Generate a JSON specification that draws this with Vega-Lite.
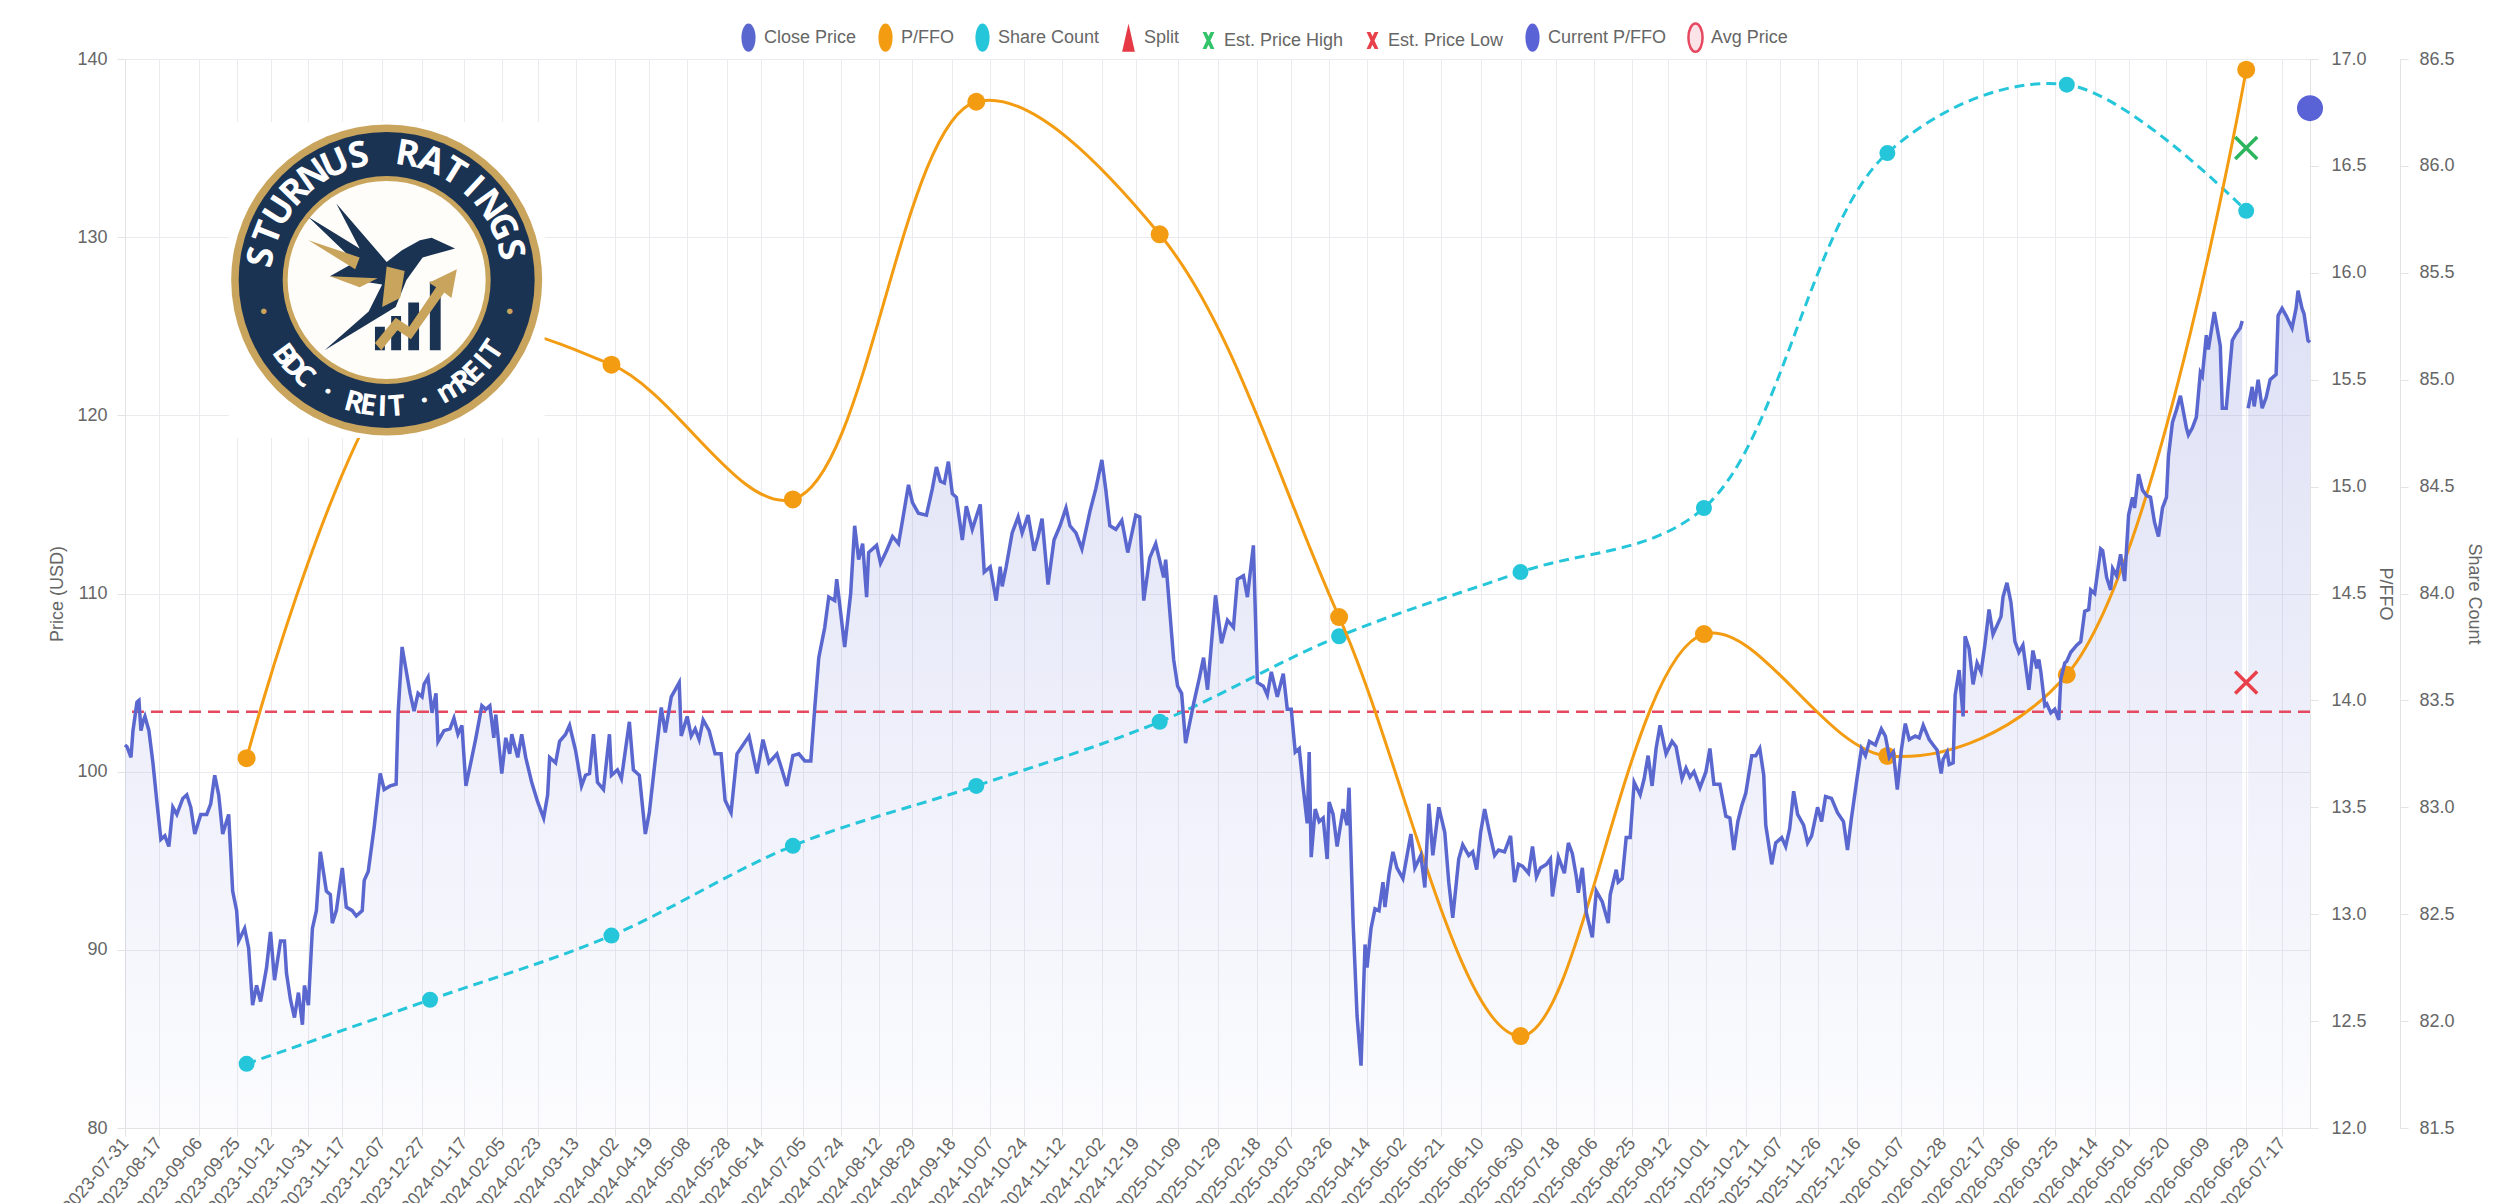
{
  "$schema": "https://vega.github.io/schema/vega-lite/v6.json",
  "width": 2185,
  "height": 1069,
  "autosize": {"type": "none"},
  "padding": {"left": 125, "top": 59, "right": 198, "bottom": 75},
  "background": "white",
  "config": {
    "font": "Liberation Sans",
    "view": {"stroke": null},
    "axis": {
      "labelColor": "#666666",
      "titleColor": "#666666",
      "labelFontSize": 18,
      "titleFontSize": 18,
      "titleFontWeight": "normal",
      "tickColor": "#e3e3e3",
      "domainColor": "#e3e3e3",
      "gridColor": "#ebebef",
      "tickSize": 8
    }
  },
  "datasets": {
    "prices": [
      {"date":"2023-07-31","close":101.5},{"date":"2023-08-01","close":101.4},{"date":"2023-08-03","close":100.8},{"date":"2023-08-04","close":102.3},{"date":"2023-08-06","close":103.9},{"date":"2023-08-07","close":104.0},{"date":"2023-08-08","close":102.3},{"date":"2023-08-09","close":102.8},{"date":"2023-08-10","close":103.1},{"date":"2023-08-12","close":102.3},{"date":"2023-08-14","close":100.5},{"date":"2023-08-16","close":98.3},{"date":"2023-08-18","close":96.2},{"date":"2023-08-20","close":96.4},{"date":"2023-08-22","close":95.8},{"date":"2023-08-24","close":98.0},{"date":"2023-08-26","close":97.6},{"date":"2023-08-29","close":98.5},{"date":"2023-08-31","close":98.7},
      {"date":"2023-09-02","close":98.0},{"date":"2023-09-04","close":96.5},{"date":"2023-09-07","close":97.6},{"date":"2023-09-10","close":97.6},{"date":"2023-09-12","close":98.2},{"date":"2023-09-14","close":99.8},{"date":"2023-09-16","close":98.7},{"date":"2023-09-18","close":96.5},{"date":"2023-09-21","close":97.6},{"date":"2023-09-23","close":93.3},{"date":"2023-09-25","close":92.2},{"date":"2023-09-26","close":90.5},{"date":"2023-09-29","close":91.2},
      {"date":"2023-10-01","close":90.1},{"date":"2023-10-03","close":86.9},{"date":"2023-10-05","close":88.0},{"date":"2023-10-07","close":87.1},{"date":"2023-10-10","close":89.0},{"date":"2023-10-12","close":91.0},{"date":"2023-10-14","close":88.3},{"date":"2023-10-17","close":90.5},{"date":"2023-10-19","close":90.5},{"date":"2023-10-20","close":88.7},{"date":"2023-10-22","close":87.2},{"date":"2023-10-24","close":86.2},{"date":"2023-10-26","close":87.6},{"date":"2023-10-28","close":85.8},{"date":"2023-10-29","close":88.0},{"date":"2023-10-31","close":86.9},
      {"date":"2023-11-02","close":91.2},{"date":"2023-11-04","close":92.2},{"date":"2023-11-06","close":95.5},{"date":"2023-11-09","close":93.3},{"date":"2023-11-11","close":93.1},{"date":"2023-11-12","close":91.5},{"date":"2023-11-14","close":92.2},{"date":"2023-11-17","close":94.6},{"date":"2023-11-19","close":92.4},{"date":"2023-11-22","close":92.2},{"date":"2023-11-24","close":91.9},{"date":"2023-11-27","close":92.2},{"date":"2023-11-28","close":93.9},{"date":"2023-11-30","close":94.4},
      {"date":"2023-12-03","close":96.9},{"date":"2023-12-06","close":99.9},{"date":"2023-12-08","close":99.0},{"date":"2023-12-11","close":99.2},{"date":"2023-12-14","close":99.3},{"date":"2023-12-15","close":103.3},{"date":"2023-12-17","close":107.0},{"date":"2023-12-21","close":104.4},{"date":"2023-12-23","close":103.4},{"date":"2023-12-25","close":104.4},{"date":"2023-12-27","close":104.2},{"date":"2023-12-28","close":104.9},{"date":"2023-12-30","close":105.3},
      {"date":"2024-01-01","close":103.3},{"date":"2024-01-03","close":104.4},{"date":"2024-01-04","close":101.7},{"date":"2024-01-07","close":102.3},{"date":"2024-01-10","close":102.4},{"date":"2024-01-12","close":103.0},{"date":"2024-01-14","close":102.1},{"date":"2024-01-16","close":102.6},{"date":"2024-01-18","close":99.2},{"date":"2024-01-21","close":100.8},{"date":"2024-01-23","close":101.9},{"date":"2024-01-26","close":103.7},{"date":"2024-01-28","close":103.5},{"date":"2024-01-30","close":103.7},
      {"date":"2024-02-01","close":101.9},{"date":"2024-02-02","close":103.2},{"date":"2024-02-05","close":99.9},{"date":"2024-02-07","close":101.9},{"date":"2024-02-09","close":101.0},{"date":"2024-02-10","close":102.1},{"date":"2024-02-13","close":100.8},{"date":"2024-02-15","close":102.1},{"date":"2024-02-17","close":100.8},{"date":"2024-02-20","close":99.4},{"date":"2024-02-23","close":98.3},{"date":"2024-02-26","close":97.4},{"date":"2024-02-28","close":98.7},{"date":"2024-02-29","close":100.8},
      {"date":"2024-03-03","close":100.5},{"date":"2024-03-05","close":101.7},{"date":"2024-03-08","close":102.1},{"date":"2024-03-10","close":102.6},{"date":"2024-03-13","close":101.2},{"date":"2024-03-16","close":99.2},{"date":"2024-03-18","close":99.8},{"date":"2024-03-20","close":99.9},{"date":"2024-03-22","close":102.1},{"date":"2024-03-24","close":99.4},{"date":"2024-03-27","close":99.0},{"date":"2024-03-30","close":102.1},{"date":"2024-03-31","close":99.8},
      {"date":"2024-04-03","close":100.1},{"date":"2024-04-05","close":99.6},{"date":"2024-04-09","close":102.8},{"date":"2024-04-11","close":100.1},{"date":"2024-04-14","close":99.8},{"date":"2024-04-17","close":96.5},{"date":"2024-04-19","close":97.7},{"date":"2024-04-22","close":100.7},{"date":"2024-04-25","close":103.6},{"date":"2024-04-27","close":102.2},{"date":"2024-04-30","close":104.2},
      {"date":"2024-05-04","close":105.0},{"date":"2024-05-05","close":102.0},{"date":"2024-05-08","close":103.1},{"date":"2024-05-10","close":102.0},{"date":"2024-05-12","close":102.4},{"date":"2024-05-14","close":101.8},{"date":"2024-05-16","close":102.9},{"date":"2024-05-19","close":102.3},{"date":"2024-05-22","close":101.0},{"date":"2024-05-25","close":101.0},{"date":"2024-05-27","close":98.4},{"date":"2024-05-30","close":97.7},
      {"date":"2024-06-02","close":101.0},{"date":"2024-06-08","close":102.0},{"date":"2024-06-12","close":99.9},{"date":"2024-06-15","close":101.8},{"date":"2024-06-18","close":100.5},{"date":"2024-06-22","close":101.0},{"date":"2024-06-24","close":100.3},{"date":"2024-06-27","close":99.2},{"date":"2024-06-30","close":100.9},
      {"date":"2024-07-03","close":101.0},{"date":"2024-07-06","close":100.6},{"date":"2024-07-09","close":100.6},{"date":"2024-07-11","close":103.6},{"date":"2024-07-13","close":106.4},{"date":"2024-07-16","close":108.1},{"date":"2024-07-18","close":109.8},{"date":"2024-07-21","close":109.6},{"date":"2024-07-22","close":110.8},{"date":"2024-07-26","close":107.0},{"date":"2024-07-29","close":110.0},{"date":"2024-07-31","close":113.8},
      {"date":"2024-08-02","close":111.9},{"date":"2024-08-04","close":112.8},{"date":"2024-08-06","close":109.8},{"date":"2024-08-07","close":112.3},{"date":"2024-08-11","close":112.7},{"date":"2024-08-13","close":111.7},{"date":"2024-08-16","close":112.4},{"date":"2024-08-19","close":113.2},{"date":"2024-08-22","close":112.8},{"date":"2024-08-24","close":114.1},{"date":"2024-08-27","close":116.1},{"date":"2024-08-29","close":115.1},
      {"date":"2024-09-01","close":114.5},{"date":"2024-09-05","close":114.4},{"date":"2024-09-08","close":115.9},{"date":"2024-09-10","close":117.1},{"date":"2024-09-12","close":116.3},{"date":"2024-09-14","close":116.2},{"date":"2024-09-16","close":117.4},{"date":"2024-09-18","close":115.6},{"date":"2024-09-20","close":115.4},{"date":"2024-09-23","close":113.0},{"date":"2024-09-25","close":114.9},{"date":"2024-09-28","close":113.6},
      {"date":"2024-10-02","close":115.0},{"date":"2024-10-04","close":111.2},{"date":"2024-10-07","close":111.5},{"date":"2024-10-10","close":109.6},{"date":"2024-10-12","close":111.5},{"date":"2024-10-13","close":110.4},{"date":"2024-10-15","close":111.5},{"date":"2024-10-18","close":113.4},{"date":"2024-10-21","close":114.3},{"date":"2024-10-23","close":113.4},{"date":"2024-10-26","close":114.4},{"date":"2024-10-29","close":112.4},{"date":"2024-10-31","close":113.2},
      {"date":"2024-11-02","close":114.2},{"date":"2024-11-05","close":110.5},{"date":"2024-11-08","close":113.0},{"date":"2024-11-11","close":113.8},{"date":"2024-11-14","close":114.8},{"date":"2024-11-16","close":113.8},{"date":"2024-11-19","close":113.4},{"date":"2024-11-22","close":112.5},{"date":"2024-11-26","close":114.6},{"date":"2024-11-29","close":115.9},
      {"date":"2024-12-02","close":117.5},{"date":"2024-12-04","close":115.8},{"date":"2024-12-06","close":113.8},{"date":"2024-12-09","close":113.6},{"date":"2024-12-12","close":114.1},{"date":"2024-12-15","close":112.3},{"date":"2024-12-19","close":114.4},{"date":"2024-12-21","close":114.3},{"date":"2024-12-23","close":109.6},{"date":"2024-12-26","close":112.0},{"date":"2024-12-29","close":112.8},
      {"date":"2025-01-02","close":110.9},{"date":"2025-01-03","close":111.9},{"date":"2025-01-05","close":109.1},{"date":"2025-01-07","close":106.3},{"date":"2025-01-09","close":104.8},{"date":"2025-01-11","close":104.4},{"date":"2025-01-13","close":101.6},{"date":"2025-01-17","close":103.8},{"date":"2025-01-20","close":105.3},{"date":"2025-01-22","close":106.4},{"date":"2025-01-24","close":104.6},{"date":"2025-01-28","close":109.9},{"date":"2025-01-31","close":107.2},
      {"date":"2025-02-03","close":108.5},{"date":"2025-02-06","close":108.1},{"date":"2025-02-08","close":110.8},{"date":"2025-02-11","close":111.0},{"date":"2025-02-13","close":109.8},{"date":"2025-02-16","close":112.7},{"date":"2025-02-18","close":105.0},{"date":"2025-02-21","close":104.8},{"date":"2025-02-23","close":104.3},{"date":"2025-02-25","close":105.6},{"date":"2025-02-28","close":104.2},
      {"date":"2025-03-03","close":105.5},{"date":"2025-03-05","close":103.5},{"date":"2025-03-07","close":103.5},{"date":"2025-03-09","close":101.1},{"date":"2025-03-11","close":101.3},{"date":"2025-03-13","close":99.1},{"date":"2025-03-15","close":97.1},{"date":"2025-03-16","close":101.1},{"date":"2025-03-17","close":95.2},{"date":"2025-03-19","close":97.9},{"date":"2025-03-21","close":97.2},{"date":"2025-03-23","close":97.4},{"date":"2025-03-25","close":95.1},{"date":"2025-03-26","close":98.3},{"date":"2025-03-28","close":97.6},{"date":"2025-03-30","close":95.8},
      {"date":"2025-04-02","close":97.9},{"date":"2025-04-04","close":97.0},{"date":"2025-04-05","close":99.1},{"date":"2025-04-07","close":91.6},{"date":"2025-04-09","close":86.3},{"date":"2025-04-11","close":83.5},{"date":"2025-04-13","close":90.3},{"date":"2025-04-14","close":89.0},{"date":"2025-04-16","close":91.2},{"date":"2025-04-18","close":92.3},{"date":"2025-04-20","close":92.2},{"date":"2025-04-22","close":93.8},{"date":"2025-04-23","close":92.4},{"date":"2025-04-25","close":94.2},{"date":"2025-04-27","close":95.5},{"date":"2025-04-29","close":94.6},
      {"date":"2025-05-02","close":94.0},{"date":"2025-05-06","close":96.5},{"date":"2025-05-08","close":94.6},{"date":"2025-05-11","close":95.3},{"date":"2025-05-13","close":93.5},{"date":"2025-05-15","close":98.2},{"date":"2025-05-17","close":95.3},{"date":"2025-05-20","close":98.0},{"date":"2025-05-23","close":96.6},{"date":"2025-05-25","close":93.8},{"date":"2025-05-27","close":91.8},{"date":"2025-05-30","close":95.1},
      {"date":"2025-06-01","close":95.9},{"date":"2025-06-04","close":95.3},{"date":"2025-06-06","close":95.5},{"date":"2025-06-08","close":94.5},{"date":"2025-06-10","close":96.6},{"date":"2025-06-12","close":97.9},{"date":"2025-06-14","close":96.8},{"date":"2025-06-17","close":95.3},{"date":"2025-06-19","close":95.6},{"date":"2025-06-22","close":95.5},{"date":"2025-06-25","close":96.4},{"date":"2025-06-27","close":93.8},{"date":"2025-06-29","close":94.8},
      {"date":"2025-07-01","close":94.7},{"date":"2025-07-04","close":94.3},{"date":"2025-07-06","close":95.8},{"date":"2025-07-08","close":94.1},{"date":"2025-07-10","close":94.6},{"date":"2025-07-13","close":94.8},{"date":"2025-07-15","close":95.1},{"date":"2025-07-16","close":93.0},{"date":"2025-07-19","close":95.2},{"date":"2025-07-22","close":94.3},{"date":"2025-07-24","close":96.0},{"date":"2025-07-26","close":95.4},{"date":"2025-07-28","close":94.1},{"date":"2025-07-29","close":93.2},{"date":"2025-07-31","close":94.6},
      {"date":"2025-08-02","close":92.1},{"date":"2025-08-05","close":90.7},{"date":"2025-08-07","close":93.3},{"date":"2025-08-10","close":92.7},{"date":"2025-08-13","close":91.5},{"date":"2025-08-14","close":93.1},{"date":"2025-08-17","close":94.5},{"date":"2025-08-18","close":93.8},{"date":"2025-08-20","close":94.0},{"date":"2025-08-22","close":96.3},{"date":"2025-08-24","close":96.3},{"date":"2025-08-26","close":99.4},{"date":"2025-08-29","close":98.7},{"date":"2025-08-31","close":99.6},
      {"date":"2025-09-02","close":100.9},{"date":"2025-09-04","close":99.2},{"date":"2025-09-06","close":101.3},{"date":"2025-09-08","close":102.6},{"date":"2025-09-11","close":101.0},{"date":"2025-09-14","close":101.7},{"date":"2025-09-16","close":101.4},{"date":"2025-09-19","close":99.6},{"date":"2025-09-21","close":100.2},{"date":"2025-09-23","close":99.7},{"date":"2025-09-25","close":100.0},{"date":"2025-09-28","close":99.1},
      {"date":"2025-10-01","close":100.0},{"date":"2025-10-03","close":101.3},{"date":"2025-10-05","close":99.3},{"date":"2025-10-08","close":99.3},{"date":"2025-10-11","close":97.5},{"date":"2025-10-13","close":97.4},{"date":"2025-10-15","close":95.6},{"date":"2025-10-17","close":97.2},{"date":"2025-10-19","close":98.1},{"date":"2025-10-21","close":98.8},{"date":"2025-10-24","close":100.9},{"date":"2025-10-26","close":100.9},{"date":"2025-10-28","close":101.3},{"date":"2025-10-30","close":99.8},{"date":"2025-10-31","close":97.0},
      {"date":"2025-11-03","close":94.8},{"date":"2025-11-05","close":96.0},{"date":"2025-11-08","close":96.3},{"date":"2025-11-10","close":95.8},{"date":"2025-11-12","close":96.8},{"date":"2025-11-14","close":98.9},{"date":"2025-11-16","close":97.6},{"date":"2025-11-19","close":97.0},{"date":"2025-11-21","close":96.0},{"date":"2025-11-23","close":96.4},{"date":"2025-11-26","close":98.0},{"date":"2025-11-28","close":97.2},{"date":"2025-11-30","close":98.6},
      {"date":"2025-12-03","close":98.5},{"date":"2025-12-06","close":97.7},{"date":"2025-12-09","close":97.2},{"date":"2025-12-11","close":95.6},{"date":"2025-12-13","close":97.4},{"date":"2025-12-16","close":99.8},{"date":"2025-12-18","close":101.3},{"date":"2025-12-20","close":100.9},{"date":"2025-12-22","close":101.7},{"date":"2025-12-25","close":101.5},{"date":"2025-12-28","close":102.4},{"date":"2025-12-30","close":102.0},
      {"date":"2026-01-01","close":100.8},{"date":"2026-01-03","close":101.1},{"date":"2026-01-05","close":99.0},{"date":"2026-01-07","close":101.2},{"date":"2026-01-09","close":102.7},{"date":"2026-01-11","close":101.8},{"date":"2026-01-14","close":102.0},{"date":"2026-01-16","close":101.9},{"date":"2026-01-18","close":102.6},{"date":"2026-01-21","close":101.8},{"date":"2026-01-23","close":101.5},{"date":"2026-01-25","close":101.2},{"date":"2026-01-27","close":99.9},{"date":"2026-01-28","close":100.7},{"date":"2026-01-30","close":101.1},{"date":"2026-01-31","close":100.4},
      {"date":"2026-02-02","close":100.5},{"date":"2026-02-03","close":104.3},{"date":"2026-02-05","close":105.7},{"date":"2026-02-07","close":103.1},{"date":"2026-02-08","close":107.6},{"date":"2026-02-10","close":106.9},{"date":"2026-02-12","close":104.9},{"date":"2026-02-14","close":106.1},{"date":"2026-02-16","close":105.6},{"date":"2026-02-18","close":107.2},{"date":"2026-02-20","close":109.1},{"date":"2026-02-22","close":107.7},{"date":"2026-02-26","close":108.7},{"date":"2026-02-27","close":109.8},
      {"date":"2026-03-01","close":110.6},{"date":"2026-03-03","close":109.5},{"date":"2026-03-05","close":107.3},{"date":"2026-03-07","close":106.7},{"date":"2026-03-09","close":107.1},{"date":"2026-03-12","close":104.6},{"date":"2026-03-14","close":106.8},{"date":"2026-03-16","close":105.8},{"date":"2026-03-17","close":106.3},{"date":"2026-03-18","close":105.6},{"date":"2026-03-20","close":103.7},{"date":"2026-03-21","close":103.8},{"date":"2026-03-23","close":103.3},{"date":"2026-03-25","close":103.5},{"date":"2026-03-27","close":102.9},{"date":"2026-03-28","close":105.2},{"date":"2026-03-30","close":106.1},{"date":"2026-03-31","close":106.2},
      {"date":"2026-04-02","close":106.7},{"date":"2026-04-05","close":107.1},{"date":"2026-04-07","close":107.3},{"date":"2026-04-09","close":109.0},{"date":"2026-04-11","close":109.1},{"date":"2026-04-12","close":110.2},{"date":"2026-04-14","close":110.0},{"date":"2026-04-17","close":112.5},{"date":"2026-04-18","close":112.4},{"date":"2026-04-20","close":110.9},{"date":"2026-04-22","close":110.2},{"date":"2026-04-23","close":111.4},{"date":"2026-04-25","close":111.0},{"date":"2026-04-27","close":112.2},{"date":"2026-04-29","close":110.7},
      {"date":"2026-05-01","close":114.4},{"date":"2026-05-03","close":115.4},{"date":"2026-05-04","close":114.8},{"date":"2026-05-06","close":116.7},{"date":"2026-05-08","close":115.8},{"date":"2026-05-10","close":115.5},{"date":"2026-05-12","close":115.4},{"date":"2026-05-14","close":114.0},{"date":"2026-05-16","close":113.2},{"date":"2026-05-18","close":114.8},{"date":"2026-05-20","close":115.4},{"date":"2026-05-21","close":117.7},{"date":"2026-05-23","close":119.6},{"date":"2026-05-25","close":120.3},{"date":"2026-05-27","close":121.1},{"date":"2026-05-28","close":120.5},{"date":"2026-05-30","close":119.3},{"date":"2026-05-31","close":118.9},
      {"date":"2026-06-02","close":119.3},{"date":"2026-06-04","close":119.9},{"date":"2026-06-06","close":122.4},{"date":"2026-06-07","close":122.2},{"date":"2026-06-09","close":124.5},{"date":"2026-06-10","close":123.7},{"date":"2026-06-13","close":125.8},{"date":"2026-06-16","close":123.9},{"date":"2026-06-17","close":120.4},{"date":"2026-06-19","close":120.4},{"date":"2026-06-22","close":124.2},{"date":"2026-06-24","close":124.6},{"date":"2026-06-26","close":124.9},{"date":"2026-06-27","close":125.3},{"date":"2026-06-29","close":null},{"date":"2026-06-30","close":120.4},
      {"date":"2026-07-02","close":121.6},{"date":"2026-07-03","close":120.5},{"date":"2026-07-05","close":122.0},{"date":"2026-07-07","close":120.4},{"date":"2026-07-09","close":121.0},{"date":"2026-07-11","close":122.0},{"date":"2026-07-14","close":122.3},{"date":"2026-07-15","close":125.6},{"date":"2026-07-17","close":126.0},{"date":"2026-07-19","close":125.6},{"date":"2026-07-22","close":124.9},{"date":"2026-07-24","close":126.0},{"date":"2026-07-25","close":127.0},{"date":"2026-07-27","close":126.0},{"date":"2026-07-28","close":125.7},{"date":"2026-07-30","close":124.2},{"date":"2026-07-31","close":124.1}
    ],
    "quarters": [
      {"date":"2023-09-30","pffo":13.73,"shares":81.80},
      {"date":"2023-12-31","pffo":15.70,"shares":82.10},
      {"date":"2024-03-31","pffo":15.57,"shares":82.40},
      {"date":"2024-06-30","pffo":14.94,"shares":82.82},
      {"date":"2024-09-30","pffo":16.80,"shares":83.10},
      {"date":"2024-12-31","pffo":16.18,"shares":83.40},
      {"date":"2025-03-31","pffo":14.39,"shares":83.80},
      {"date":"2025-06-30","pffo":12.43,"shares":84.10},
      {"date":"2025-09-30","pffo":14.31,"shares":84.40},
      {"date":"2025-12-31","pffo":13.74,"shares":86.06},
      {"date":"2026-03-31","pffo":14.12,"shares":86.38},
      {"date":"2026-06-29","pffo":16.95,"shares":85.79}
    ]
  },
  "resolve": {"scale": {"y": "independent", "theta": "independent", "angle": "independent"}},
  "layer": [
    {
      "data": {"name": "prices"},
      "layer": [
        {
          "mark": {
            "type": "area",
            "invalid": "break-paths-filter-domains",
            "color": {
              "gradient": "linear", "x1": 0, "y1": 0, "x2": 0, "y2": 1,
              "stops": [
                {"offset": 0, "color": "rgba(90,103,207,0.2)"},
                {"offset": 1, "color": "rgba(90,103,207,0.02)"}
              ]
            }
          },
          "encoding": {
            "x": {
              "field": "date", "type": "temporal",
              "scale": {"type": "utc", "domain": [{"year": 2023, "month": 7, "date": 31, "utc": true}, {"year": 2026, "month": 7, "date": 31, "utc": true}]},
              "axis": {
                "title": null, "format": "%Y-%m-%d", "labelAngle": -50, "labelAlign": "right", "labelBaseline": "middle",
                "labelOverlap": false, "labelFlush": false, "labelPadding": 4, "grid": true, "domain": true, "tickCount": 200,
                "values": [
                  {"year":2023,"month":7,"date":31,"utc":true},{"year":2023,"month":8,"date":17,"utc":true},{"year":2023,"month":9,"date":6,"utc":true},{"year":2023,"month":9,"date":25,"utc":true},{"year":2023,"month":10,"date":12,"utc":true},{"year":2023,"month":10,"date":31,"utc":true},{"year":2023,"month":11,"date":17,"utc":true},{"year":2023,"month":12,"date":7,"utc":true},{"year":2023,"month":12,"date":27,"utc":true},
                  {"year":2024,"month":1,"date":17,"utc":true},{"year":2024,"month":2,"date":5,"utc":true},{"year":2024,"month":2,"date":23,"utc":true},{"year":2024,"month":3,"date":13,"utc":true},{"year":2024,"month":4,"date":2,"utc":true},{"year":2024,"month":4,"date":19,"utc":true},{"year":2024,"month":5,"date":8,"utc":true},{"year":2024,"month":5,"date":28,"utc":true},{"year":2024,"month":6,"date":14,"utc":true},{"year":2024,"month":7,"date":5,"utc":true},{"year":2024,"month":7,"date":24,"utc":true},{"year":2024,"month":8,"date":12,"utc":true},{"year":2024,"month":8,"date":29,"utc":true},{"year":2024,"month":9,"date":18,"utc":true},{"year":2024,"month":10,"date":7,"utc":true},{"year":2024,"month":10,"date":24,"utc":true},{"year":2024,"month":11,"date":12,"utc":true},{"year":2024,"month":12,"date":2,"utc":true},{"year":2024,"month":12,"date":19,"utc":true},
                  {"year":2025,"month":1,"date":9,"utc":true},{"year":2025,"month":1,"date":29,"utc":true},{"year":2025,"month":2,"date":18,"utc":true},{"year":2025,"month":3,"date":7,"utc":true},{"year":2025,"month":3,"date":26,"utc":true},{"year":2025,"month":4,"date":14,"utc":true},{"year":2025,"month":5,"date":2,"utc":true},{"year":2025,"month":5,"date":21,"utc":true},{"year":2025,"month":6,"date":10,"utc":true},{"year":2025,"month":6,"date":30,"utc":true},{"year":2025,"month":7,"date":18,"utc":true},{"year":2025,"month":8,"date":6,"utc":true},{"year":2025,"month":8,"date":25,"utc":true},{"year":2025,"month":9,"date":12,"utc":true},{"year":2025,"month":10,"date":1,"utc":true},{"year":2025,"month":10,"date":21,"utc":true},{"year":2025,"month":11,"date":7,"utc":true},{"year":2025,"month":11,"date":26,"utc":true},{"year":2025,"month":12,"date":16,"utc":true},
                  {"year":2026,"month":1,"date":7,"utc":true},{"year":2026,"month":1,"date":28,"utc":true},{"year":2026,"month":2,"date":17,"utc":true},{"year":2026,"month":3,"date":6,"utc":true},{"year":2026,"month":3,"date":25,"utc":true},{"year":2026,"month":4,"date":14,"utc":true},{"year":2026,"month":5,"date":1,"utc":true},{"year":2026,"month":5,"date":20,"utc":true},{"year":2026,"month":6,"date":9,"utc":true},{"year":2026,"month":6,"date":29,"utc":true},{"year":2026,"month":7,"date":17,"utc":true}
                ]
              }
            },
            "y": {
              "field": "close", "type": "quantitative",
              "scale": {"domain": [80, 140], "nice": false, "zero": false},
              "axis": {"title": "Price (USD)", "values": [80, 90, 100, 110, 120, 130, 140], "grid": true, "labelPadding": 10, "titlePadding": 10}
            },
            "y2": {"datum": 80}
          }
        },
        {
          "data": {"values": [{"avg": 103.36}]},
          "mark": {"type": "rule", "color": "#e5485f", "strokeWidth": 2.5, "strokeDash": [12, 7]},
          "encoding": {"y": {"field": "avg", "type": "quantitative"}}
        }
      ]
    },
    {
      "data": {"name": "quarters"},
      "encoding": {
        "x": {"field": "date", "type": "temporal", "scale": {"type": "utc"}},
        "y": {
          "field": "shares", "type": "quantitative",
          "scale": {"domain": [81.5, 86.5], "nice": false, "zero": false},
          "axis": {"orient": "right", "offset": 90, "title": "Share Count", "values": [81.5, 82, 82.5, 83, 83.5, 84, 84.5, 85, 85.5, 86, 86.5], "format": ".1f", "grid": false, "labelPadding": 11, "titlePadding": 10}
        }
      },
      "layer": [
        {"mark": {"type": "line", "interpolate": "catmull-rom", "color": "#26c6da", "strokeWidth": 3, "strokeDash": [10, 6]}, "encoding": {}},
        {"mark": {"type": "point", "filled": true, "opacity": 1, "size": 256, "color": "#26c6da"}, "encoding": {}}
      ]
    },
    {
      "encoding": {
        "x": {"field": "date", "type": "temporal", "scale": {"type": "utc"}},
        "y": {
          "field": "pffo", "type": "quantitative",
          "scale": {"domain": [12, 17], "nice": false, "zero": false},
          "axis": {"orient": "right", "title": "P/FFO", "values": [12, 12.5, 13, 13.5, 14, 14.5, 15, 15.5, 16, 16.5, 17], "format": ".1f", "grid": false, "labelPadding": 13, "titlePadding": 9}
        }
      },
      "layer": [
        {"data": {"name": "quarters"}, "mark": {"type": "line", "interpolate": "catmull-rom", "color": "#f39c12", "strokeWidth": 3}, "encoding": {}},
        {"data": {"name": "quarters"}, "mark": {"type": "point", "filled": true, "opacity": 1, "size": 324, "color": "#f39c12"}, "encoding": {}},
        {"data": {"values": [{"date": "2026-07-31", "pffo": 16.77}]}, "mark": {"type": "point", "filled": true, "opacity": 1, "size": 676, "color": "#5a63d6"}, "encoding": {}}
      ]
    },
    {
      "encoding": {
        "x": {"field": "date", "type": "temporal", "scale": {"type": "utc"}}
      },
      "layer": [
        {
          "data": {"name": "prices"},
          "mark": {"type": "line", "color": "#5a67cf", "strokeWidth": 3.5, "invalid": "break-paths-filter-domains"},
          "encoding": {"y": {"field": "close", "type": "quantitative", "scale": {"domain": [80, 140], "nice": false, "zero": false}, "axis": null}}
        },
        {
          "data": {"values": [{"date": "2026-06-29", "high": 135, "low": 105}]},
          "mark": {"type": "point", "shape": "M-1,-1L1,1M-1,1L1,-1", "filled": false, "opacity": 1, "size": 484, "strokeWidth": 3.5, "color": "#2db55d"},
          "encoding": {"y": {"field": "high", "type": "quantitative", "scale": {"domain": [80, 140], "nice": false, "zero": false}, "axis": null}}
        },
        {
          "data": {"values": [{"date": "2026-06-29", "high": 135, "low": 105}]},
          "mark": {"type": "point", "shape": "M-1,-1L1,1M-1,1L1,-1", "filled": false, "opacity": 1, "size": 484, "strokeWidth": 3.5, "color": "#e8414b"},
          "encoding": {"y": {"field": "low", "type": "quantitative", "scale": {"domain": [80, 140], "nice": false, "zero": false}, "axis": null}}
        }
      ]
    },
    {
      "data": {"values": [{}]},
      "encoding": {
        "x": {"datum": {"year": 2023, "month": 12, "date": 9, "hours": 6, "utc": true}, "type": "temporal", "scale": {"type": "utc"}},
        "y": {"datum": 127.6, "type": "quantitative", "scale": {"domain": [80, 140], "nice": false, "zero": false}, "axis": null}
      },
      "resolve": {"scale": {"theta": "independent", "angle": "independent"}},
      "layer": [
        {"mark": {"type": "point", "shape": "square", "filled": true, "opacity": 1, "size": 99856, "color": "#ffffff"}, "encoding": {}},
        {"mark": {"type": "point", "shape": "circle", "filled": true, "opacity": 1, "size": 96721, "color": "#c9a45c"}, "encoding": {}},
        {"mark": {"type": "point", "shape": "circle", "filled": true, "opacity": 1, "size": 87616, "color": "#1a3353"}, "encoding": {}},
        {"mark": {"type": "point", "shape": "circle", "filled": true, "opacity": 1, "size": 43264, "color": "#c9a45c"}, "encoding": {}},
        {"mark": {"type": "point", "shape": "circle", "filled": true, "opacity": 1, "size": 39204, "color": "#fefdf9"}, "encoding": {}},
        {"mark": {"type": "point", "filled": true, "opacity": 1, "size": 32400, "color": "#1a3353",
          "shape": "M0.76,-0.35L0.5,-0.47L0.37,-0.44L0.17,-0.33L0,-0.2L-0.56,-0.85L-0.3,-0.35L-0.87,-0.7L-0.35,-0.2L-0.63,-0.04L-0.05,0.05L-0.2,0.35L-0.69,0.78L0.1,0.3L0.22,0L0.4,-0.25ZM-0.13,0.78L-0.02,0.78L-0.02,0.52L-0.13,0.52ZM0.05,0.78L0.16,0.78L0.16,0.4L0.05,0.4ZM0.24,0.78L0.36,0.78L0.36,0.25L0.24,0.25ZM0.48,0.78L0.6,0.78L0.6,0.02L0.48,0.02Z"}, "encoding": {}},
        {"mark": {"type": "point", "filled": true, "opacity": 1, "size": 32400, "color": "#c9a45c",
          "shape": "M-0.87,-0.44L-0.3,-0.25L-0.35,-0.12ZM-0.63,-0.04L-0.1,-0.02L-0.3,0.08ZM0,-0.15L0.2,-0.1L0.15,0.2L-0.05,0.3ZM-0.13,0.7L0.1,0.42L0.25,0.52L0.55,0.08L0.47,0.03L0.78,-0.12L0.72,0.2L0.64,0.14L0.27,0.66L0.12,0.56L-0.06,0.78Z"}, "encoding": {}},
        {
          "data": {"values": [
            {"ch": "S", "k": 0}, {"ch": "T", "k": 1}, {"ch": "U", "k": 2}, {"ch": "R", "k": 3}, {"ch": "N", "k": 4}, {"ch": "U", "k": 5}, {"ch": "S", "k": 6}, {"ch": " ", "k": 7},
            {"ch": "R", "k": 8}, {"ch": "A", "k": 9}, {"ch": "T", "k": 10}, {"ch": "I", "k": 11}, {"ch": "N", "k": 12}, {"ch": "G", "k": 13}, {"ch": "S", "k": 14}
          ]},
          "mark": {"type": "text", "radius": 127, "font": "Open Sans", "fontWeight": "bold", "fontSize": 36, "color": "#ffffff", "align": "center", "baseline": "middle"},
          "encoding": {
            "theta": {"field": "k", "type": "quantitative", "scale": {"domain": [0, 14], "range": [-1.389, 1.332]}},
            "angle": {"field": "k", "type": "quantitative", "scale": {"domain": [0, 14], "range": [-79.6, 76.3]}, "legend": null},
            "text": {"field": "ch"}
          }
        },
        {
          "data": {"values": [
            {"ch": "B", "k": 0}, {"ch": "D", "k": 1}, {"ch": "C", "k": 2}, {"ch": " ", "k": 3}, {"ch": "·", "k": 4}, {"ch": " ", "k": 5},
            {"ch": "R", "k": 6}, {"ch": "E", "k": 7}, {"ch": "I", "k": 8}, {"ch": "T", "k": 9}, {"ch": " ", "k": 10}, {"ch": "·", "k": 11}, {"ch": " ", "k": 12},
            {"ch": "m", "k": 13}, {"ch": "R", "k": 14}, {"ch": "E", "k": 15}, {"ch": "I", "k": 16}, {"ch": "T", "k": 17}
          ]},
          "mark": {"type": "text", "radius": 127, "font": "Open Sans", "fontWeight": "bold", "fontSize": 29, "color": "#ffffff", "align": "center", "baseline": "middle"},
          "encoding": {
            "theta": {"field": "k", "type": "quantitative", "scale": {"domain": [0, 17], "range": [4.079, 2.159]}},
            "angle": {"field": "k", "type": "quantitative", "scale": {"domain": [0, 17], "range": [53.7, -56.3]}, "legend": null},
            "text": {"field": "ch"}
          }
        },
        {
          "data": {"values": [{"ch": "●", "k": 0}, {"ch": "●", "k": 1}]},
          "mark": {"type": "text", "radius": 127, "fontSize": 13, "color": "#c9a45c", "align": "center", "baseline": "middle"},
          "encoding": {
            "theta": {"field": "k", "type": "quantitative", "scale": {"domain": [0, 1], "range": [-1.822, 1.822]}},
            "text": {"field": "ch"}
          }
        }
      ]
    },
    {
      "data": {"values": [
        {"series": "Close Price"}, {"series": "P/FFO"}, {"series": "Share Count"}, {"series": "Split"},
        {"series": "Est. Price High"}, {"series": "Est. Price Low"}, {"series": "Current P/FFO"}, {"series": "Avg Price"}
      ]},
      "mark": {"type": "point", "filled": true, "opacity": 0},
      "encoding": {
        "color": {
          "field": "series", "type": "nominal",
          "scale": {
            "domain": ["Close Price", "P/FFO", "Share Count", "Split", "Est. Price High", "Est. Price Low", "Current P/FFO", "Avg Price"],
            "range": ["#5a67cf", "#f39c12", "#26c6da", "#e53945", "#33c46b", "#e8414b", "#5a63d6", "#fbe3e7"]
          },
          "legend": {
            "title": null, "orient": "none", "direction": "horizontal", "columns": 8,
            "legendX": 608, "legendY": -37, "padding": 0,
            "labelFontSize": 18, "labelColor": "#666666", "labelOffset": 0, "columnPadding": 13,
            "symbolSize": 800,
            "encode": {
              "symbols": {
                "update": {
                  "opacity": {"value": 1},
                  "stroke": {"signal": "datum.value === 'Avg Price' ? '#e5485f' : 'transparent'"},
                  "strokeWidth": {"value": 2.5}
                }
              }
            }
          }
        },
        "shape": {
          "field": "series", "type": "nominal",
          "scale": {
            "domain": ["Close Price", "P/FFO", "Share Count", "Split", "Est. Price High", "Est. Price Low", "Current P/FFO", "Avg Price"],
            "range": [
              "M-0.5,0A0.5,1 0 1,1 0.5,0A0.5,1 0 1,1 -0.5,0Z",
              "M-0.5,0A0.5,1 0 1,1 0.5,0A0.5,1 0 1,1 -0.5,0Z",
              "M-0.5,0A0.5,1 0 1,1 0.5,0A0.5,1 0 1,1 -0.5,0Z",
              "M0,-1L0.45,1L-0.45,1Z",
              "M-0.42,-0.6L-0.15,-0.6L0,-0.3L0.15,-0.6L0.42,-0.6L0.14,0L0.42,0.6L0.15,0.6L0,0.3L-0.15,0.6L-0.42,0.6L-0.14,0Z",
              "M-0.42,-0.6L-0.15,-0.6L0,-0.3L0.15,-0.6L0.42,-0.6L0.14,0L0.42,0.6L0.15,0.6L0,0.3L-0.15,0.6L-0.42,0.6L-0.14,0Z",
              "M-0.5,0A0.5,1 0 1,1 0.5,0A0.5,1 0 1,1 -0.5,0Z",
              "M-0.5,0A0.5,1 0 1,1 0.5,0A0.5,1 0 1,1 -0.5,0Z"
            ]
          }
        }
      }
    }
  ]
}
